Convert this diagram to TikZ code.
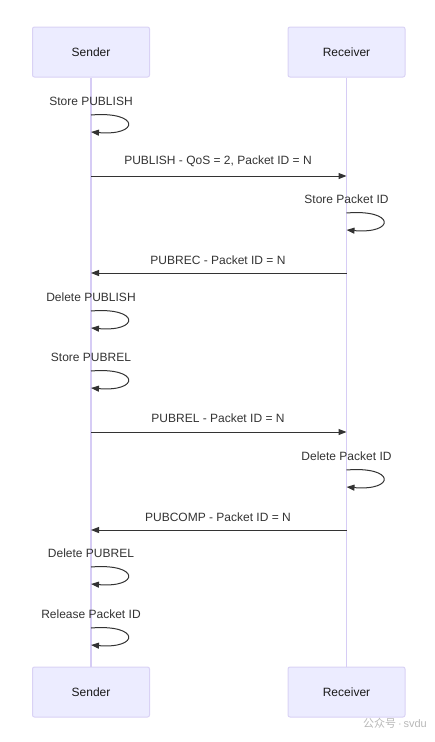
\documentclass[tikz,border=0pt]{standalone}
\usepackage{fontspec}
\setmainfont{Liberation Sans}
\newfontfamily\cjk{Noto Sans CJK SC}
\usetikzlibrary{arrows.meta}
\definecolor{actorfill}{HTML}{ECECFF}
\definecolor{actorline}{HTML}{D9D2F5}
\definecolor{lifeline}{HTML}{D6CCF5}
\definecolor{msgline}{HTML}{333333}

\begin{document}
\begin{tikzpicture}[x=1pt, y=-1pt,
                actor/.style={rectangle, draw=actorline, line width=1pt, fill=actorfill, rounded corners=2pt, minimum width=117pt, minimum height=50pt, font=\fontsize{12}{14}\selectfont, text=black!90},
                life/.style={draw=lifeline, line width=1.3pt},
                msg/.style={draw=msgline, line width=1pt, -{Triangle[length=8pt, width=6pt]}},
                lbl/.style={font=\fontsize{12}{14}\selectfont, text=msgline, inner sep=0pt}
            ]
                \useasboundingbox (0,0) rectangle (435,742);
                % actors
                \node[actor] (senderTop) at (91,52) {Sender};
                \node[actor] (receiverTop) at (346.5,52) {Receiver};
                \node[actor] (senderBot) at (91,692) {Sender};
                \node[actor] (receiverBot) at (346.5,692) {Receiver};
                \draw[life] (senderTop) -- (senderBot);
                \draw[life] (receiverTop) -- (receiverBot);
                % Store PUBLISH
                \node[lbl] (t1) at (91,101) {Store PUBLISH};
                \coordinate (s1a) at (91,115);
                \coordinate (s1b) at (91,132);
                \draw[msg] (s1a) .. controls (140,111) and (140,136) .. (s1b);
                % PUBLISH
                \node[lbl] (t2) at (218,161) {PUBLISH - QoS = 2, Packet ID = N};
                \coordinate (m1a) at (91,176);
                \coordinate (m1b) at (346.5,176);
                \draw[msg] (m1a) -- (m1b);
                % Store Packet ID
                \node[lbl] (t3) at (346.5,199) {Store Packet ID};
                \coordinate (s2a) at (346.5,213);
                \coordinate (s2b) at (346.5,230);
                \draw[msg] (s2a) .. controls (395.5,209) and (395.5,234) .. (s2b);
                % PUBREC
                \node[lbl] (t4) at (218,260) {PUBREC - Packet ID = N};
                \coordinate (m2a) at (346.5,273);
                \coordinate (m2b) at (91,273);
                \draw[msg] (m2a) -- (m2b);
                % Delete PUBLISH
                \node[lbl] (t5) at (91,297) {Delete PUBLISH};
                \coordinate (s3a) at (91,311);
                \coordinate (s3b) at (91,328);
                \draw[msg] (s3a) .. controls (140,307) and (140,332) .. (s3b);
                % Store PUBREL
                \node[lbl] (t6) at (91,357) {Store PUBREL};
                \coordinate (s4a) at (91,371);
                \coordinate (s4b) at (91,388);
                \draw[msg] (s4a) .. controls (140,367) and (140,392) .. (s4b);
                % PUBREL
                \node[lbl] (t7) at (218,418) {PUBREL - Packet ID = N};
                \coordinate (m3a) at (91,432);
                \coordinate (m3b) at (346.5,432);
                \draw[msg] (m3a) -- (m3b);
                % Delete Packet ID
                \node[lbl] (t8) at (346.5,456) {Delete Packet ID};
                \coordinate (s5a) at (346.5,470);
                \coordinate (s5b) at (346.5,487);
                \draw[msg] (s5a) .. controls (395.5,466) and (395.5,491) .. (s5b);
                % PUBCOMP
                \node[lbl] (t9) at (218,517) {PUBCOMP - Packet ID = N};
                \coordinate (m4a) at (346.5,530);
                \coordinate (m4b) at (91,530);
                \draw[msg] (m4a) -- (m4b);
                % Delete PUBREL
                \node[lbl] (t10) at (91,553) {Delete PUBREL};
                \coordinate (s6a) at (91,567);
                \coordinate (s6b) at (91,584);
                \draw[msg] (s6a) .. controls (140,563) and (140,588) .. (s6b);
                % Release Packet ID
                \node[lbl] (t11) at (91,614) {Release Packet ID};
                \coordinate (s7a) at (91,628);
                \coordinate (s7b) at (91,645);
                \draw[msg] (s7a) .. controls (140,624) and (140,649) .. (s7b);
                % watermark
                \node[lbl, text=black!28, anchor=west, font=\fontsize{11}{13}\selectfont] (wm) at (363,723) {{\cjk 公众号}\,·\,svdu};
            \end{tikzpicture}
\end{document}
